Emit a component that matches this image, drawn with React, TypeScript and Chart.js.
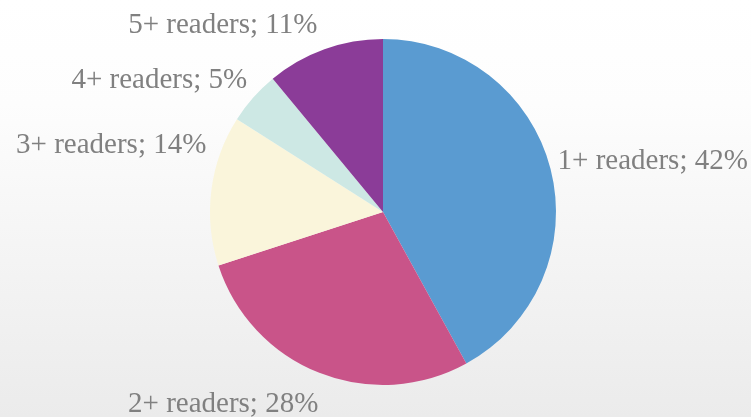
import React, { useEffect, useRef } from "react";
import { Chart, registerables } from "chart.js";

Chart.register(...registerables);

const categories = ["1+ readers", "2+ readers", "3+ readers", "4+ readers", "5+ readers"];
const shares = [42, 28, 14, 5, 11];
const sliceColors = ["#5A9BD1", "#C95489", "#FAF5DB", "#CDE8E4", "#8B3C98"];

// label nudges relative to each slice's outer-edge anchor (layout only)
const labelNudges: [number, number][] = [
  [7, 0],
  [-1, 39],
  [-5, -37],
  [-6, -10],
  [-7, -16],
];

const LABEL_FONT = "29px 'Liberation Serif'";

const labelPlugin = {
  id: "outerLabels",
  afterDatasetsDraw(chart: any) {
    const ctx = chart.ctx;
    const meta = chart.getDatasetMeta(0);
    ctx.save();
    ctx.font = LABEL_FONT + ", 'Times New Roman', serif";
    ctx.fillStyle = "#808080";
    ctx.textBaseline = "alphabetic";
    meta.data.forEach((arc: any, i: number) => {
      const { x, y, startAngle, endAngle, outerRadius } = arc.getProps(
        ["x", "y", "startAngle", "endAngle", "outerRadius"],
        true
      );
      const mid = (startAngle + endAngle) / 2;
      const ax = x + Math.cos(mid) * outerRadius;
      const ay = y + Math.sin(mid) * outerRadius;
      const [dx, dy] = labelNudges[i];
      const text = `${categories[i]}; ${shares[i]}%`;
      ctx.textAlign = Math.cos(mid) > 0.5 ? "left" : "right";
      ctx.fillText(text, ax + dx, ay + dy);
    });
    ctx.restore();
  },
};

export default function App() {
  const canvasRef = useRef<HTMLCanvasElement | null>(null);

  useEffect(() => {
    document.body.style.margin = "0";
    const canvas = canvasRef.current;
    if (!canvas) return;
    let chart: Chart | null = null;
    let cancelled = false;
    const build = () => {
      if (cancelled) return;
      chart = new Chart(canvas, {
        type: "pie",
        data: {
          labels: categories,
          datasets: [
            {
              data: shares,
              backgroundColor: sliceColors,
              borderWidth: 0,
            },
          ],
        },
        options: {
          responsive: false,
          animation: false,
          layout: { padding: { left: 210, right: 195, top: 39, bottom: 32 } },
          plugins: {
            legend: { display: false },
            tooltip: { enabled: false },
          },
        },
        plugins: [labelPlugin],
      });
    };
    const fonts: any = (document as any).fonts;
    if (fonts && fonts.load) {
      fonts.load(LABEL_FONT).then(build, build);
    } else {
      build();
    }
    return () => {
      cancelled = true;
      if (chart) chart.destroy();
    };
  }, []);

  return (
    <div
      style={{
        position: "absolute",
        left: 0,
        top: 0,
        width: 751,
        height: 417,
        background: "linear-gradient(#ffffff 0%, #fdfdfd 25%, #ebebeb 100%)",
      }}
    >
      <canvas ref={canvasRef} width={751} height={417} style={{ display: "block" }} />
    </div>
  );
}
